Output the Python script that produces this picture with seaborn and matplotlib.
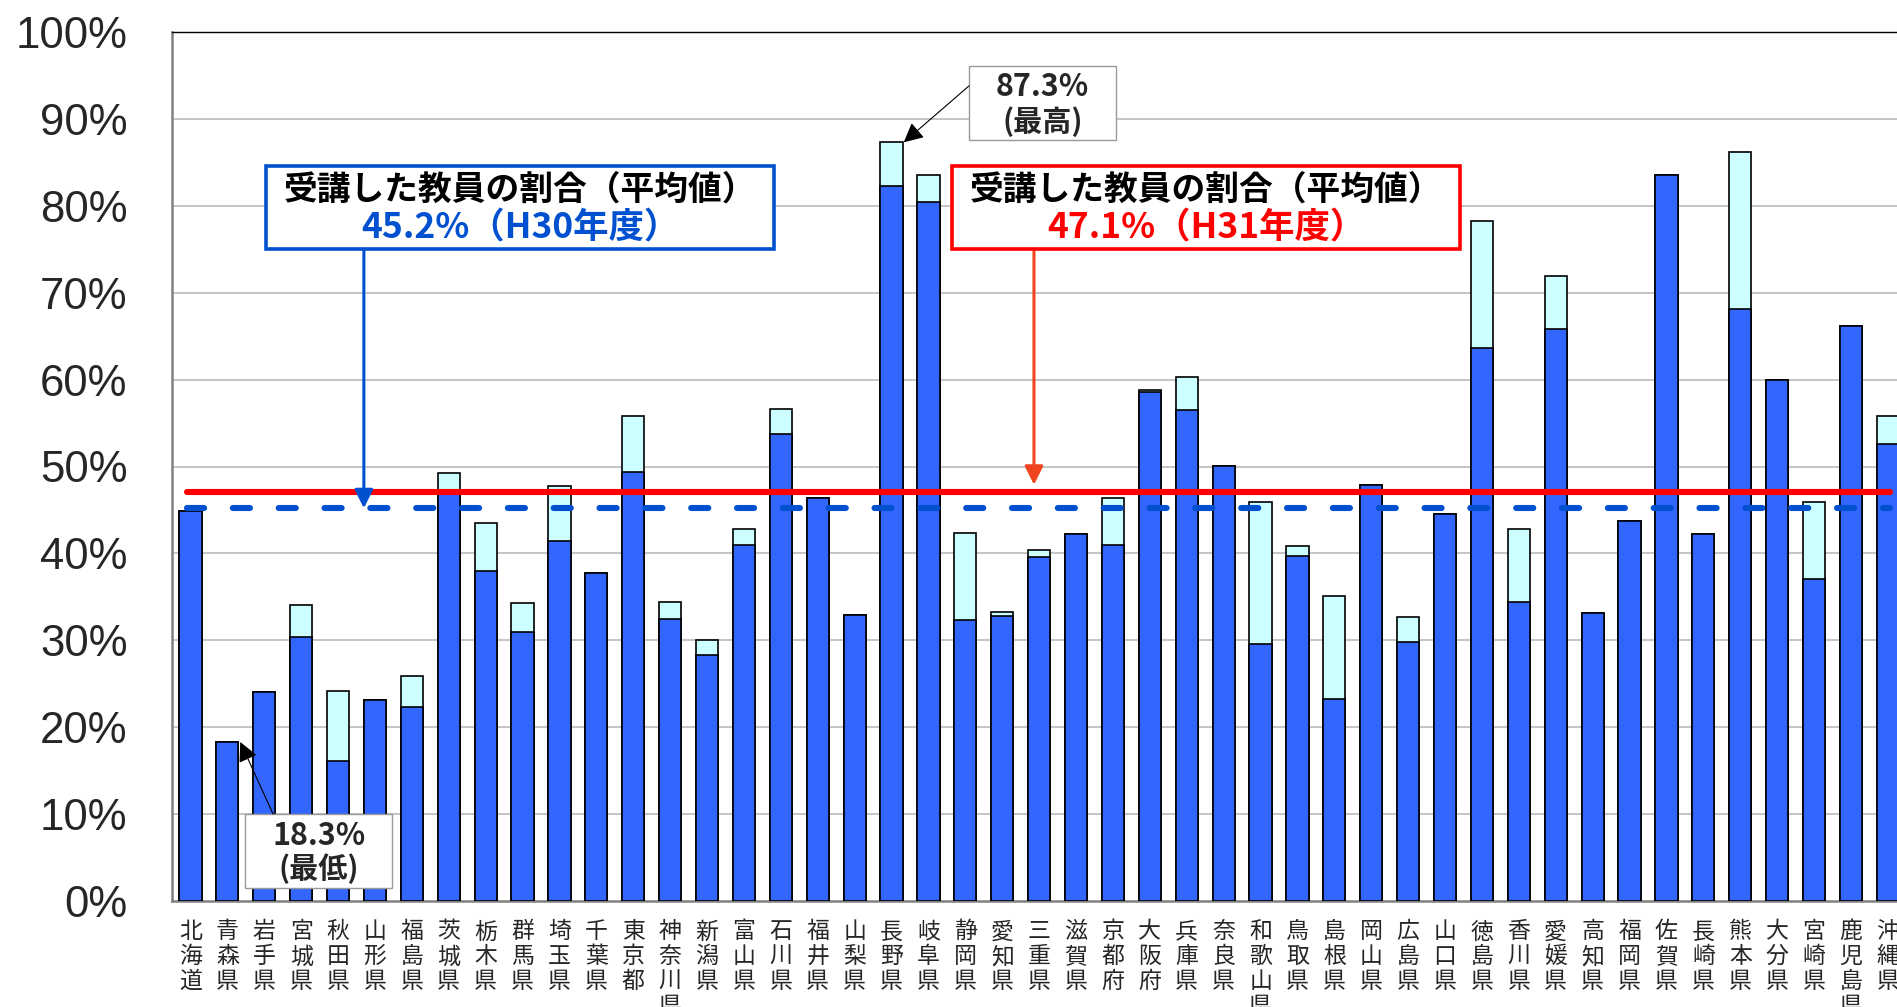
import matplotlib
matplotlib.use("Agg")
import matplotlib.pyplot as plt
import matplotlib.patches as mpatches
import seaborn as sns
import pandas as pd
import numpy as np

prefs = ["北海道", "青森県", "岩手県", "宮城県", "秋田県", "山形県", "福島県", "茨城県",
         "栃木県", "群馬県", "埼玉県", "千葉県", "東京都", "神奈川県", "新潟県", "富山県",
         "石川県", "福井県", "山梨県", "長野県", "岐阜県", "静岡県", "愛知県", "三重県",
         "滋賀県", "京都府", "大阪府", "兵庫県", "奈良県", "和歌山県", "鳥取県", "島根県",
         "岡山県", "広島県", "山口県", "徳島県", "香川県", "愛媛県", "高知県", "福岡県",
         "佐賀県", "長崎県", "熊本県", "大分県", "宮崎県", "鹿児島県", "沖縄県"]

# H30 rate (blue part)
h30 = [44.9, 18.3, 24.1, 30.4, 16.1, 23.1, 22.3, 47.0, 38.0, 30.9, 41.4, 37.7,
       49.4, 32.5, 28.3, 41.0, 53.7, 46.4, 32.9, 82.3, 80.4, 32.3, 32.8, 39.6,
       42.2, 41.0, 58.6, 56.5, 50.1, 29.6, 39.7, 23.2, 47.9, 29.8, 44.5, 63.6,
       34.4, 65.8, 33.1, 43.7, 83.6, 42.2, 68.1, 60.0, 37.1, 66.2, 52.6]
# H31 rate (top of bar, light part = increase)
h31 = [44.9, 18.3, 24.1, 34.1, 24.2, 23.1, 25.9, 49.3, 43.5, 34.3, 47.7, 37.7,
       55.8, 34.4, 30.0, 42.8, 56.6, 46.4, 32.9, 87.3, 83.6, 42.3, 33.2, 40.4,
       42.2, 46.4, 58.8, 60.3, 50.1, 45.9, 40.8, 35.1, 47.9, 32.7, 44.5, 78.2,
       42.8, 71.9, 33.1, 43.7, 83.6, 42.2, 86.2, 60.0, 45.9, 66.2, 55.8]

avg_h30 = 45.2
avg_h31 = 47.1
y_ticks = list(range(0, 101, 10))

df = pd.DataFrame({"pref": prefs, "h30": h30, "h31": h31})

sns.set_style("white")
plt.rcParams['font.family'] = ['Noto Sans CJK JP', 'DejaVu Sans']

fig = plt.figure(figsize=(18.97, 10.07), dpi=100)
ax = fig.add_axes([172 / 1897, 1 - 901 / 1007, 47 * 36.9 / 1897, 869 / 1007])

sns.barplot(data=df, x="pref", y="h31", order=prefs, color="#CCFFFF", saturation=1,
            width=0.6, edgecolor="black", linewidth=1.2, ax=ax, zorder=3)
sns.barplot(data=df, x="pref", y="h30", order=prefs, color="#3366FF", saturation=1,
            width=0.6, edgecolor="black", linewidth=1.2, ax=ax, zorder=3)

ax.set_xlim(-0.5, 46.5)
ax.set_ylim(0, 100)
ax.set_xlabel("")
ax.set_ylabel("")

# grid
ax.set_axisbelow(True)
for v in y_ticks[1:-1]:
    ax.axhline(v, color="#C0C0C0", lw=1.3, zorder=0)

ax.set_yticks(y_ticks)
ax.set_yticklabels([f"{v}%" for v in y_ticks], fontfamily="Liberation Sans", fontsize=31.5)
ax.tick_params(axis="y", direction="in", length=7, width=1.3, color="#808080", pad=32)

ax.set_xticks(range(len(prefs)))
ax.set_xticklabels(["\n".join(p) for p in prefs], fontsize=16.5, linespacing=1.1,
                   va="top")
ax.tick_params(axis="x", length=0, pad=14)
ax.set_xticks(np.arange(-0.5, len(prefs), 1), minor=True)
ax.tick_params(axis="x", which="minor", direction="in", length=3.5, width=1.2, color="#A0A0A0")

for s in ["left", "bottom"]:
    ax.spines[s].set_color("#808080")
    ax.spines[s].set_linewidth(1.8)
ax.spines["top"].set_color("black")
ax.spines["top"].set_linewidth(1.0)
ax.spines["right"].set_visible(False)

# average lines
ax.plot([-0.1, 46.06], [avg_h31, avg_h31], color="#FF0000", lw=4.4,
        solid_capstyle="round", zorder=5)
ax.plot([-0.1, 46.06], [avg_h30, avg_h30], color="#0050D0", lw=4.4,
        dashes=(2.8, 4.7), dash_capstyle="round", zorder=5)

# average boxes
blue = "#0050D0"
red = "#FF0000"
for x0, x1, col, txt2 in [(2.05, 15.81, blue, f"{avg_h30}%（H30年度）"),
                          (20.64, 34.4, red, f"{avg_h31}%（H31年度）")]:
    ax.add_patch(mpatches.Rectangle((x0, 75.0), x1 - x0, 9.6, facecolor="white",
                                    edgecolor=col, lw=2.6, zorder=8, clip_on=False))
    xc = (x0 + x1) / 2
    ax.text(xc, 81.9, "受講した教員の割合（平均値）", ha="center", va="center",
            fontsize=24.3, fontweight="bold", color="black", zorder=9)
    ax.text(xc, 77.5, txt2, ha="center", va="center",
            fontsize=25.5, fontweight="bold", color=col, zorder=9)

ax.annotate("", xy=(4.7, avg_h30), xytext=(4.7, 75.0),
            arrowprops=dict(arrowstyle="-|>", color=blue, lw=2.2, mutation_scale=28,
                            shrinkA=0, shrinkB=0), zorder=7)
ax.annotate("", xy=(22.86, 47.9), xytext=(22.86, 75.0),
            arrowprops=dict(arrowstyle="-|>", color="#EE4420", lw=2.2, mutation_scale=28,
                            shrinkA=0, shrinkB=0), zorder=7)

# max / min boxes
max_v = max(h31)
min_v = min(h31)
ax.add_patch(mpatches.Rectangle((21.1, 87.6), 3.98, 8.5, facecolor="white",
                                edgecolor="#999999", lw=1.0, zorder=8, clip_on=False))
ax.text(23.09, 93.7, f"{max_v}%", ha="center", va="center", fontsize=22,
        fontweight="bold", zorder=9)
ax.text(23.09, 89.7, "(最高)", ha="center", va="center", fontsize=21,
        fontweight="bold", zorder=9)
ax.annotate("", xy=(19.33, max_v), xytext=(21.1, 93.8),
            arrowprops=dict(arrowstyle="-|>", color="black", lw=0.8, mutation_scale=30,
                            shrinkA=0, shrinkB=0), zorder=9)

ax.add_patch(mpatches.Rectangle((1.49, 1.5), 3.97, 8.5, facecolor="white",
                                edgecolor="#999999", lw=1.0, zorder=8, clip_on=False))
ax.text(3.48, 7.5, f"{min_v}%", ha="center", va="center", fontsize=22,
        fontweight="bold", zorder=9)
ax.text(3.48, 3.7, "(最低)", ha="center", va="center", fontsize=21,
        fontweight="bold", zorder=9)
ax.annotate("", xy=(1.35, min_v), xytext=(2.24, 10.0),
            arrowprops=dict(arrowstyle="-|>", color="black", lw=0.8, mutation_scale=30,
                            shrinkA=0, shrinkB=0), zorder=9)

fig.savefig("out.png", dpi=100)
